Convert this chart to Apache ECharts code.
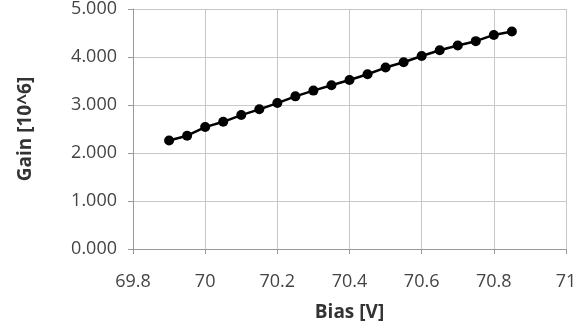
<!DOCTYPE html>
<html><head><meta charset="utf-8">
<script src="https://cdn.jsdelivr.net/npm/echarts@6/dist/echarts.min.js"></script>
<style>html,body{margin:0;padding:0;background:#fff}#c{width:587px;height:331px}</style>
</head><body><div id="c"></div>
<script>
const bias = [69.9,69.95,70.0,70.05,70.1,70.15,70.2,70.25,70.3,70.35,70.4,70.45,70.5,70.55,70.6,70.65,70.7,70.75,70.8,70.85];
const gain = [2.26,2.36,2.54,2.65,2.79,2.91,3.04,3.18,3.30,3.41,3.52,3.64,3.78,3.89,4.02,4.14,4.24,4.33,4.46,4.53];
const xTitle = 'Bias [V]';
const yTitle = 'Gain [10^6]';
const chart = echarts.init(document.getElementById('c'), null, {renderer:'canvas'});
const font = "'Open Sans', 'Noto Sans', sans-serif";
chart.setOption({
  animation:false,
  grid:{left:133,right:21,top:9,bottom:82,containLabel:false},
  xAxis:{type:'value',min:69.8,max:71,interval:0.2,
    name:xTitle,nameLocation:'middle',nameGap:54,
    nameTextStyle:{fontFamily:font,fontSize:19,fontWeight:'bold',color:'#333'},
    axisLine:{show:true,onZero:false,lineStyle:{color:'#999'}},
    axisTick:{show:true,length:5,lineStyle:{color:'#999'}},
    axisLabel:{fontFamily:font,fontSize:18,color:'#444',margin:24,formatter:v=>String(parseFloat(v.toFixed(1)))},
    splitLine:{show:true,lineStyle:{color:'#c8c8c8'}}},
  yAxis:{type:'value',min:0,max:5,interval:1,
    name:yTitle,nameLocation:'middle',nameGap:98,
    nameTextStyle:{fontFamily:font,fontSize:19,fontWeight:'bold',color:'#333'},
    axisLine:{show:true,lineStyle:{color:'#999'}},
    axisTick:{show:true,length:5,lineStyle:{color:'#999'}},
    axisLabel:{fontFamily:font,fontSize:18,color:'#444',margin:16,formatter:v=>v.toFixed(3)},
    splitLine:{show:true,lineStyle:{color:'#c8c8c8'}}},
  series:[{type:'line',data:bias.map((b,i)=>[b,gain[i]]),
    symbol:'circle',symbolSize:10,
    lineStyle:{color:'#000',width:2.5},itemStyle:{color:'#000'}}]
});
</script></body></html>
